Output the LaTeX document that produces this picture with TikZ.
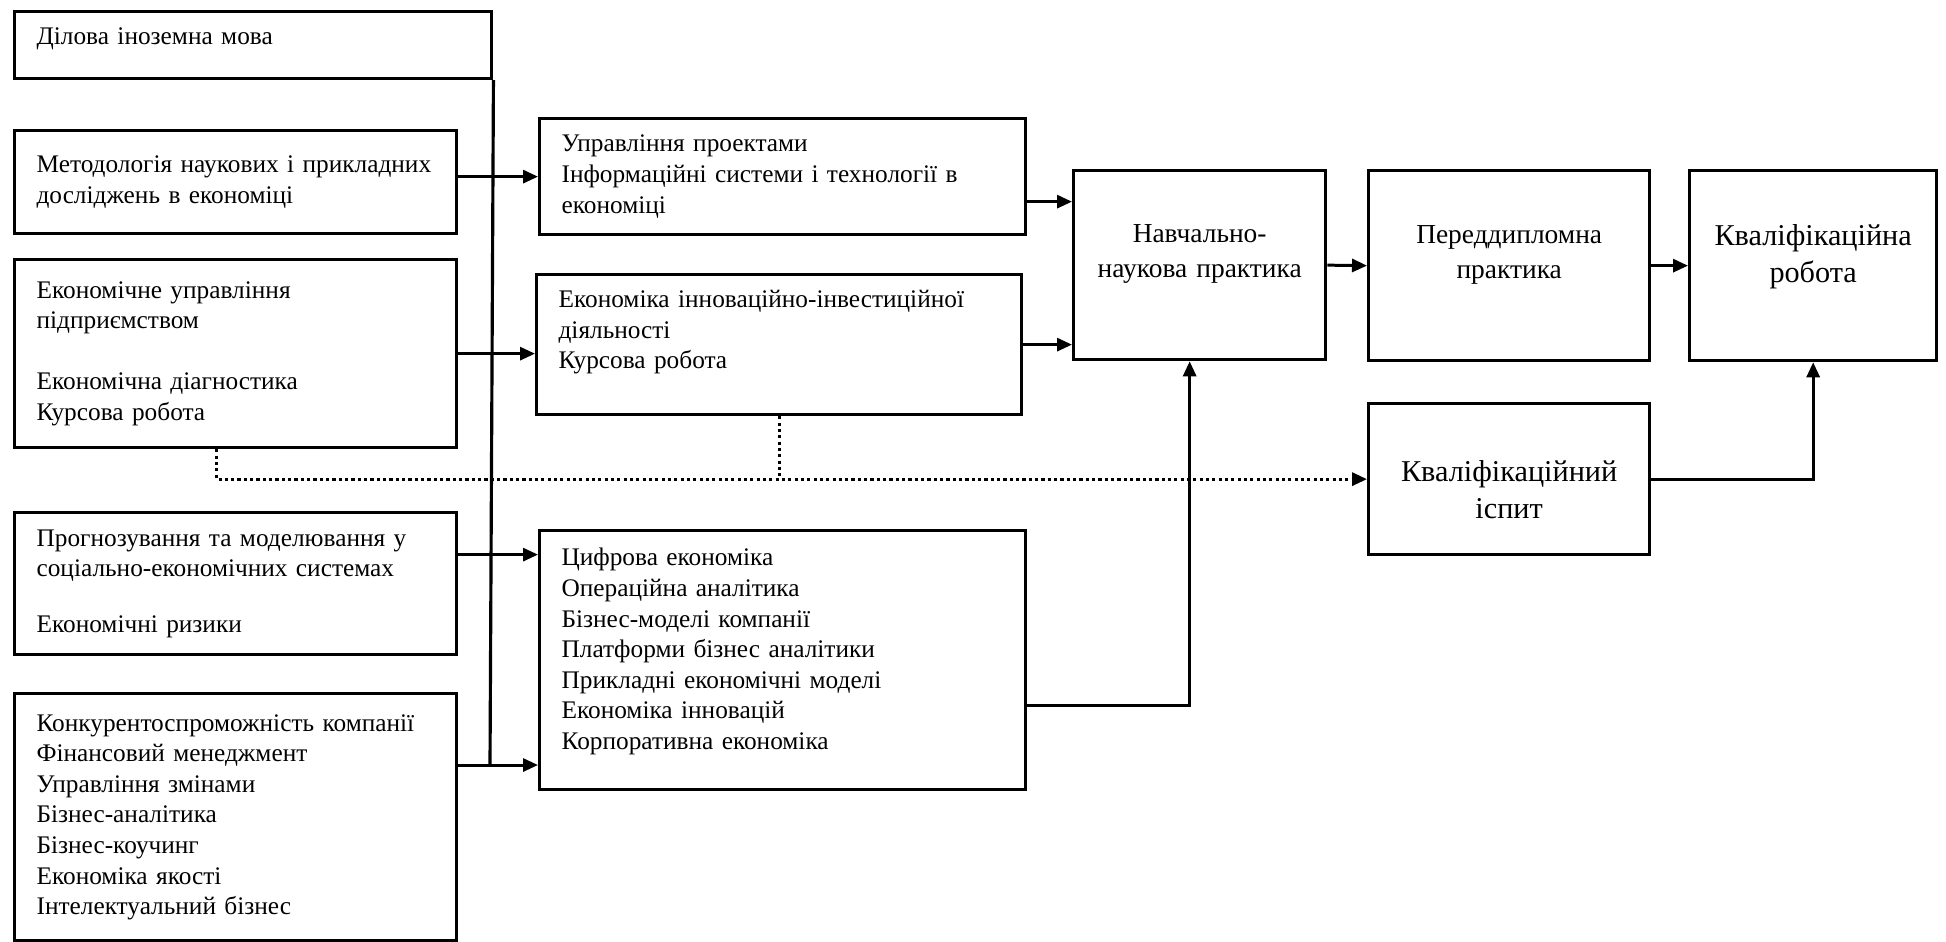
\documentclass[tikz,border=0pt]{standalone}
\usepackage{fontspec}
\setmainfont{Liberation Serif}
\usetikzlibrary{arrows.meta}
\tikzset{
    subjbox/.style={draw, line width=0.9pt, rectangle, anchor=north west, align=left,
        inner xsep=0.22cm, inner ysep=0pt, minimum width=4.42cm, text width=3.98cm,
        font=\fontsize{7.2}{8.7}\selectfont},
    stagebox/.style={draw, line width=0.9pt, rectangle, anchor=north west, align=center,
        inner xsep=0pt, inner ysep=0pt, font=\fontsize{7.8}{10}\selectfont},
    bigstage/.style={stagebox, font=\fontsize{8.6}{10.7}\selectfont},
    link/.style={line width=0.85pt, -{Triangle[length=0.15cm,width=0.13cm]}},
    dotlink/.style={line width=0.9pt, dash pattern=on 0.9pt off 0.9pt}
}
\begin{document}
\begin{tikzpicture}[x=0.01cm, y=-0.01cm]
                \useasboundingbox (0,0) rectangle (1946,941);
                % Subjects, first column
                \node[subjbox, minimum width=4.77cm, text width=4.33cm, minimum height=0.67cm, text depth=0.17cm] (lang) at (13,10) {Ділова іноземна мова};
                \node[subjbox, minimum height=1.03cm] (method) at (13,129) {Методологія наукових і прикладних\\досліджень в економіці};
                \node[subjbox, minimum height=1.88cm] (manage) at (13,258) {Економічне управління\\підприємством\\[8.7pt]Економічна діагностика\\Курсова робота};
                \node[subjbox, minimum height=1.42cm] (forecast) at (13,511) {Прогнозування та моделювання у\\соціально-економічних системах\\[7pt]Економічні ризики};
                \node[subjbox, minimum height=2.47cm] (compet) at (13,692) {Конкурентоспроможність компанії\\Фінансовий менеджмент\\Управління змінами\\Бізнес-аналітика\\Бізнес-коучинг\\Економіка якості\\Інтелектуальний бізнес};
                
                % Subjects, second column
                \node[subjbox, minimum width=4.86cm, text width=4.42cm, minimum height=1.16cm] (proj) at (538,117) {Управління проектами\\Інформаційні системи і технології в\\економіці};
                \node[subjbox, minimum width=4.85cm, text width=4.41cm, minimum height=1.40cm, text depth=0.91cm] (innov) at (535,273) {Економіка інноваційно-інвестиційної\\діяльності\\Курсова робота};
                \node[subjbox, minimum width=4.86cm, text width=4.42cm, minimum height=2.59cm, text depth=2.06cm] (digit) at (538,529) {Цифрова економіка\\Операційна аналітика\\Бізнес-моделі компанії\\Платформи бізнес аналітики\\Прикладні економічні моделі\\Економіка інновацій\\Корпоративна економіка};
                
                % Practice and final stages
                \node[stagebox, minimum width=2.52cm, text width=2.52cm, minimum height=1.89cm, text depth=0.63cm] (edupr) at (1072,169) {Навчально-\\наукова практика};
                \node[stagebox, minimum width=2.81cm, text width=2.81cm, minimum height=1.90cm, text depth=0.63cm] (prepr) at (1367,169) {Переддипломна\\практика};
                \node[bigstage, minimum width=2.47cm, text width=2.47cm, minimum height=1.90cm, text depth=0.62cm] (thesis) at (1688,169) {Кваліфікаційна\\робота};
                \node[bigstage, minimum width=2.81cm, text width=2.81cm, minimum height=1.51cm, text height=0.42cm] (exam) at (1367,402) {Кваліфікаційний\\іспит};
                
                % Bus and arrows
                \coordinate (busend) at (490,765);
                \draw[line width=0.9pt] (lang.south east) -- (busend);
                \draw[link] (method.east |- proj.west) -- (proj.west);
                \draw[link] (manage.east) -- (manage.east -| innov.west);
                \draw[link] ([yshift=0.29cm]forecast.east) -- ([yshift=0.29cm]forecast.east -| digit.west);
                \draw[link] (busend -| compet.east) -- (busend -| digit.west);
                \draw[link] ([yshift=-0.25cm]proj.east) -- ([yshift=-0.25cm]proj.east -| edupr.west);
                \draw[link] (innov.east) -- (innov.east -| edupr.west);
                \draw[link] ([yshift=-0.455cm]digit.east) -| ([xshift=-0.1cm]edupr.south);
                \draw[link] (edupr.east) -- (prepr.west);
                \draw[link] (prepr.east) -- (thesis.west);
                \draw[link] (exam.east) -| (thesis.south);
                
                % Dotted path to the exam
                \draw[dotlink, -{Triangle[length=0.15cm,width=0.13cm]}] ([xshift=-0.19cm]manage.south) |- (exam.west);
                \draw[dotlink] (innov.south) -- (innov.south |- exam.west);
            \end{tikzpicture}
\end{document}
